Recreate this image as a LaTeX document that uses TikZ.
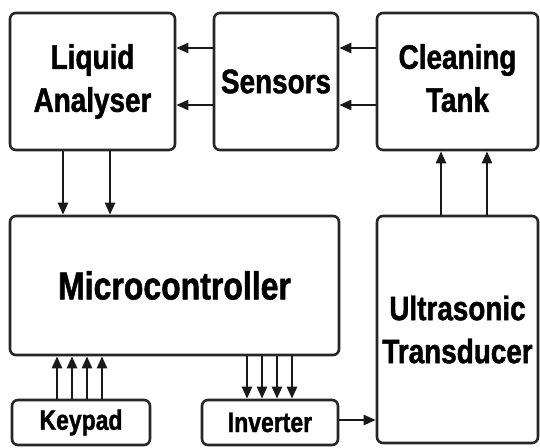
\documentclass[tikz,border=0pt]{standalone}
\usepackage{fontspec}
\newfontfamily\boxfont{Liberation Sans}[FakeStretch=0.82, BoldFeatures={FakeBold=1.3}]
\usetikzlibrary{arrows.meta}
\begin{document}
\begin{tikzpicture}[x=1pt,y=-1pt,
  box/.style={draw=black!85, line width=2.6pt, rounded corners=6pt, fill=white,
    inner sep=0pt, align=center, font=\boxfont\bfseries\fontsize{34}{43}\selectfont},
  smallbox/.style={box, font=\boxfont\bfseries\fontsize{28}{32}\selectfont},
  arr/.style={draw=black!90, line width=2.4pt, -{Triangle[length=12pt,width=10pt]}}
]
\useasboundingbox (0,0) rectangle (540,447);
% top row
\node[box, minimum width=165pt, minimum height=137pt] (liq) at (92.5,81.5) {Liquid\\Analyser};
\node[box, minimum width=124pt, minimum height=137pt] (sen) at (276,81.5) {Sensors};
\node[box, minimum width=161pt, minimum height=137pt] (tank) at (457.5,81.5) {Cleaning\\Tank\vphantom{y}};
% middle
\node[box, minimum width=329pt, minimum height=139pt,
  font=\boxfont\bfseries\fontsize{39}{44}\selectfont] (mc) at (174.5,285.5) {Microcontroller};
\node[box, minimum width=161pt, minimum height=227pt] (us) at (457.5,329.5) {Ultrasonic\\Transducer};
% bottom
\node[smallbox, minimum width=138pt, minimum height=45pt] (key) at (81,422.5) {Keypad};
\node[smallbox, minimum width=136pt, minimum height=45pt] (inv) at (270,422.5) {Inverter};
% connectors
\draw[arr] (sen.west |- 0,48) -- (liq.east |- 0,48);
\draw[arr] (sen.west |- 0,105) -- (liq.east |- 0,105);
\draw[arr] (tank.west |- 0,48) -- (sen.east |- 0,48);
\draw[arr] (tank.west |- 0,105) -- (sen.east |- 0,105);
\draw[arr] (liq.south -| 63,0) -- (mc.north -| 63,0);
\draw[arr] (liq.south -| 110,0) -- (mc.north -| 110,0);
\draw[arr] (us.north -| 441,0) -- (tank.south -| 441,0);
\draw[arr] (us.north -| 487,0) -- (tank.south -| 487,0);
\foreach \x in {57,72,87,102}
  \draw[arr] (key.north -| \x,0) -- (mc.south -| \x,0);
\foreach \x in {247,262,277,292}
  \draw[arr] (mc.south -| \x,0) -- (inv.north -| \x,0);
\draw[arr] (inv.east |- 0,420) -- (us.west |- 0,420);
\end{tikzpicture}
\end{document}
